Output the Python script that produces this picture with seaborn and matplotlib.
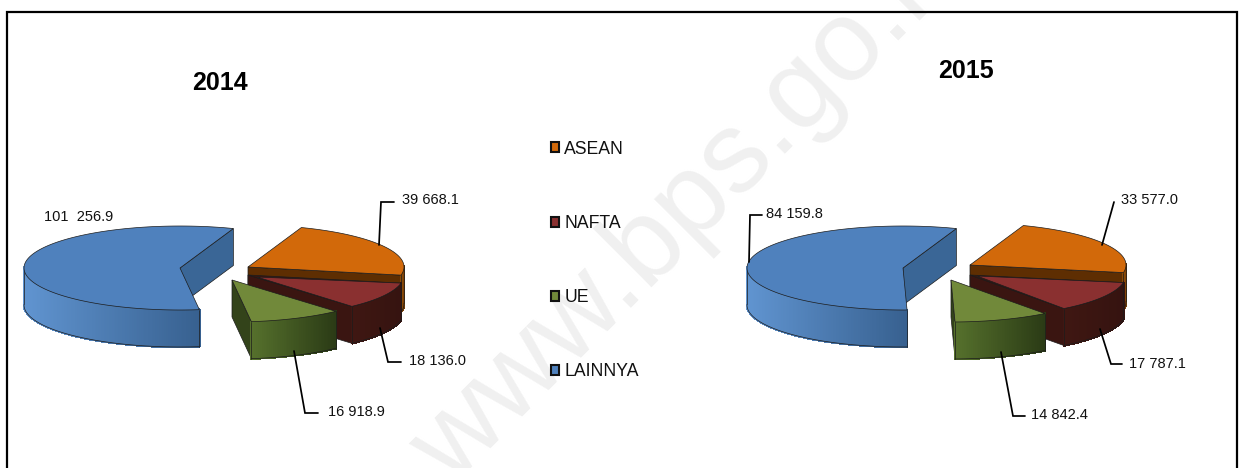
import numpy as np
import matplotlib
matplotlib.use("Agg")
import matplotlib.pyplot as plt
import matplotlib.colors as mc
from matplotlib.collections import PolyCollection
from matplotlib.patches import Polygon, Patch
import seaborn as sns

# ---- data ----
categories = ["ASEAN", "NAFTA", "UE", "LAINNYA"]
years = ["2014", "2015"]
values_2014 = [39668.1, 18136.0, 16918.9, 101256.9]
values_2015 = [33577.0, 17787.1, 14842.4, 84159.8]
labels_2014 = ["39 668.1", "18 136.0", "16 918.9", "101  256.9"]
labels_2015 = ["33 577.0", "17 787.1", "14 842.4", "84 159.8"]

# ---- styles ----
top_colors = ["#D2690A", "#8A3030", "#71893A", "#4F81BD"]
face_colors = ["#5E2E02", "#3A1511", "#33431A", "#3A6696"]
wall_left = ["#8A4A08", "#3F1712", "#55702C", "#6094D0"]
wall_right = ["#6A3604", "#351310", "#2A3A15", "#37608F"]

RX, RY, DEPTH = 156, 42, 37
START = 70.0
EDGE = "#1c1c1c"

layout = {
    "2014": dict(centers=[(248, 267), (248, 275), (232, 280), (180, 268)],
                 inner={1: (257, 277)},
                 title=(220, 82.5),
                 text=[(402, 200), (409, 361), (328, 412), (44, 217)],
                 leaders=[[(379, 245), (381, 202), (394, 202)],
                          [(380, 328), (388, 362), (401, 362)],
                          [(294, 351), (305, 413), (318, 413)],
                          None]),
    "2015": dict(centers=[(970, 265), (970, 275), (951, 280), (903, 268)],
                 inner={1: (977, 276)},
                 title=(966, 71.5),
                 text=[(1121, 200), (1129, 364), (1031, 415), (766, 214)],
                 leaders=[[(1102, 245), (1114, 202)],
                          [(1100, 329), (1111, 364), (1122, 364)],
                          [(1001, 352), (1013, 416), (1025, 416)],
                          [(749, 262), (750, 215), (762, 215)]]),
}

sns.set_theme(style="white")
plt.rcParams["font.family"] = ["Liberation Sans", "DejaVu Sans"]

fig = plt.figure(figsize=(12.45, 4.68), dpi=100, facecolor="white")
ax = fig.add_axes([0, 0, 1, 1])
ax.set_xlim(0, 1245)
ax.set_ylim(468, 0)
ax.axis("off")

ax.text(452, 487, "www.bps.go.id", fontsize=83, color="#F0F0F0", rotation=45,
        ha="left", va="baseline", rotation_mode="anchor", zorder=0)

ax.plot([7, 7, 1237, 1237], [468, 12, 12, 468], color="black", lw=1.6, zorder=1,
        solid_joinstyle="miter")


def rim(c, t):
    r = np.radians(t)
    return np.column_stack([c[0] + RX * np.cos(r), c[1] - RY * np.sin(r)])


def draw_slice(c, t0, t1, i, z, inner=None):
    """Slice runs clockwise from angle t0 down to angle t1."""
    ts = np.linspace(t0, t1, max(int(abs(t1 - t0) * 1.5), 4))
    arc = rim(c, ts)
    down = np.array([0, DEPTH])
    for t, vis in ((t0, np.cos(np.radians(t0)) < 0), (t1, np.cos(np.radians(t1)) > 0)):
        if vis:
            p = rim(c, [t])[0]
            a = np.array(c, float)
            ax.add_patch(Polygon([a, p, p + down, a + down], fc=face_colors[i],
                                 ec=EDGE, lw=0.5, zorder=z))
    front = np.sin(np.radians(ts)) < 0.02
    idx = np.where(front)[0]
    if len(idx) > 1:
        a = arc[idx]
        xs = a[:, 0]
        f = (xs - xs.min()) / max(xs.max() - xs.min(), 1)
        cl, cr = np.array(mc.to_rgb(wall_left[i])), np.array(mc.to_rgb(wall_right[i]))
        quads, cols = [], []
        for k in range(len(a) - 1):
            quads.append([a[k], a[k + 1], a[k + 1] + down, a[k] + down])
            m = (f[k] + f[k + 1]) / 2
            cols.append(cl + (cr - cl) * m)
        ax.add_collection(PolyCollection(quads, facecolors=cols, edgecolors=cols,
                                         linewidths=1.0, antialiaseds=False,
                                         zorder=z + 0.1))
        ax.plot(a[:, 0], a[:, 1] + DEPTH, color=EDGE, lw=0.5, zorder=z + 0.2)
        for e in (a[0], a[-1]):
            ax.plot([e[0], e[0]], [e[1], e[1] + DEPTH], color=EDGE, lw=0.5, zorder=z + 0.2)
    if inner is not None:
        ax.add_patch(Polygon(np.vstack([[c], arc]), fc=face_colors[i], ec=EDGE, lw=0.5,
                             zorder=z + 0.25))
    ax.add_patch(Polygon(np.vstack([[inner if inner else c], arc]), fc=top_colors[i],
                         ec=EDGE, lw=0.5, zorder=z + 0.3))


def draw_pie(year, values, labels):
    cfg = layout[year]
    total = sum(values)
    t = START
    for i, v in enumerate(values):
        sweep = 360.0 * v / total
        draw_slice(cfg["centers"][i], t, t - sweep, i, 2 + i, cfg["inner"].get(i))
        t -= sweep
    for lab, pos, lead in zip(labels, cfg["text"], cfg["leaders"]):
        ax.text(pos[0], pos[1], lab, fontsize=10.5, color="#111111", ha="left",
                va="center", zorder=10)
        if lead:
            ax.plot(*zip(*lead), color="black", lw=1.25, zorder=9,
                    solid_joinstyle="miter")
    ax.text(*cfg["title"], year, fontsize=18, fontweight="bold", color="black",
            ha="center", va="center", zorder=10)


draw_pie("2014", values_2014, labels_2014)
draw_pie("2015", values_2015, labels_2015)

handles = [Patch(fc=c, ec="#111111", lw=1.5) for c in top_colors]
leg = ax.legend(handles, categories, loc="upper left",
                bbox_to_anchor=(551 / 1245, 1 - 140.5 / 468),
                bbox_transform=ax.transAxes, frameon=False, fontsize=12.7,
                handlelength=0.46, handleheight=0.5, handletextpad=0.3,
                labelspacing=3.25, borderpad=0, borderaxespad=0)
for tx in leg.get_texts():
    tx.set_color("#111111")

fig.savefig("out.png", dpi=100)
